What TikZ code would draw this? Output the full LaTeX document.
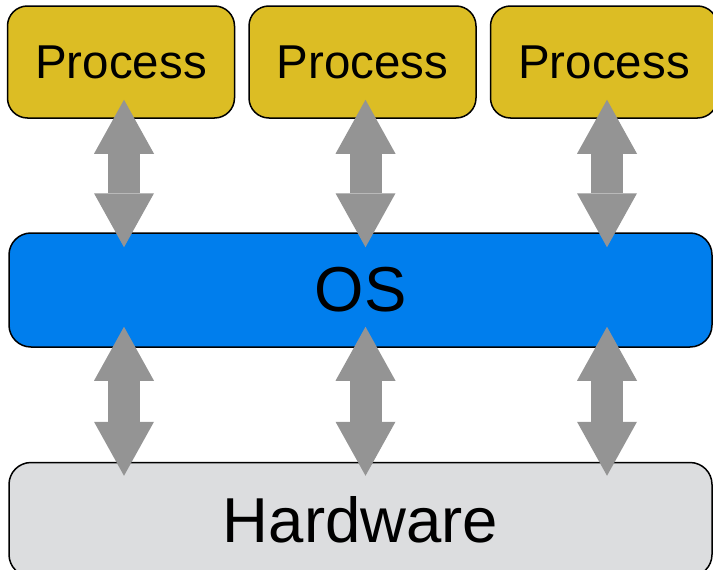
\documentclass[tikz,border=0pt]{standalone}
\usepackage{fontspec}
\setmainfont{Liberation Sans}
\usepackage{xcolor}
\usetikzlibrary{arrows.meta,positioning}

\definecolor{procgold}{RGB}{220,189,36}
\definecolor{osblue}{RGB}{0,126,237}
\definecolor{hwgray}{RGB}{220,221,223}
\definecolor{arrowgray}{RGB}{148,148,148}

\begin{document}
\begin{tikzpicture}[x=1pt, y=1pt,
  proc/.style={rectangle, draw=black, line width=1.5pt, fill=procgold, rounded corners=20pt, minimum width=227pt, minimum height=112pt, inner sep=0pt, font=\fontsize{47.5}{56}\selectfont},
  layer/.style={rectangle, draw=black, line width=1.5pt, rounded corners=22pt, minimum width=703pt, minimum height=114pt, inner sep=0pt, font=\fontsize{63.5}{74}\selectfont},
  line/.style={draw=arrowgray, line width=32pt, {Triangle[width=60pt,length=54pt,line width=0pt]}-{Triangle[width=60pt,length=54pt,line width=0pt]}}]

  \clip (0,0) rectangle (713,-570);

  \node [proc] (p2) at (362.5,-62) {Process};
  \node [proc, left=13pt of p2] (p1) {Process};
  \node [proc, right=13pt of p2] (p3) {Process};

  \node [layer, fill=osblue] (os) at (360.5,-290) {OS};
  \node [layer, fill=hwgray, below=114pt of os] (hw) {Hardware};

  \foreach \p in {p1,p2,p3} {
    \path [line, shorten <=-19pt, shorten >=-15pt] ([xshift=3pt]\p.south) -- ([xshift=3pt]\p.south |- os.north);
    \path [line, shorten <=-21pt, shorten >=-14pt] ([xshift=3pt]\p.south |- os.south) -- ([xshift=3pt]\p.south |- hw.north);
  }
\end{tikzpicture}
\end{document}
